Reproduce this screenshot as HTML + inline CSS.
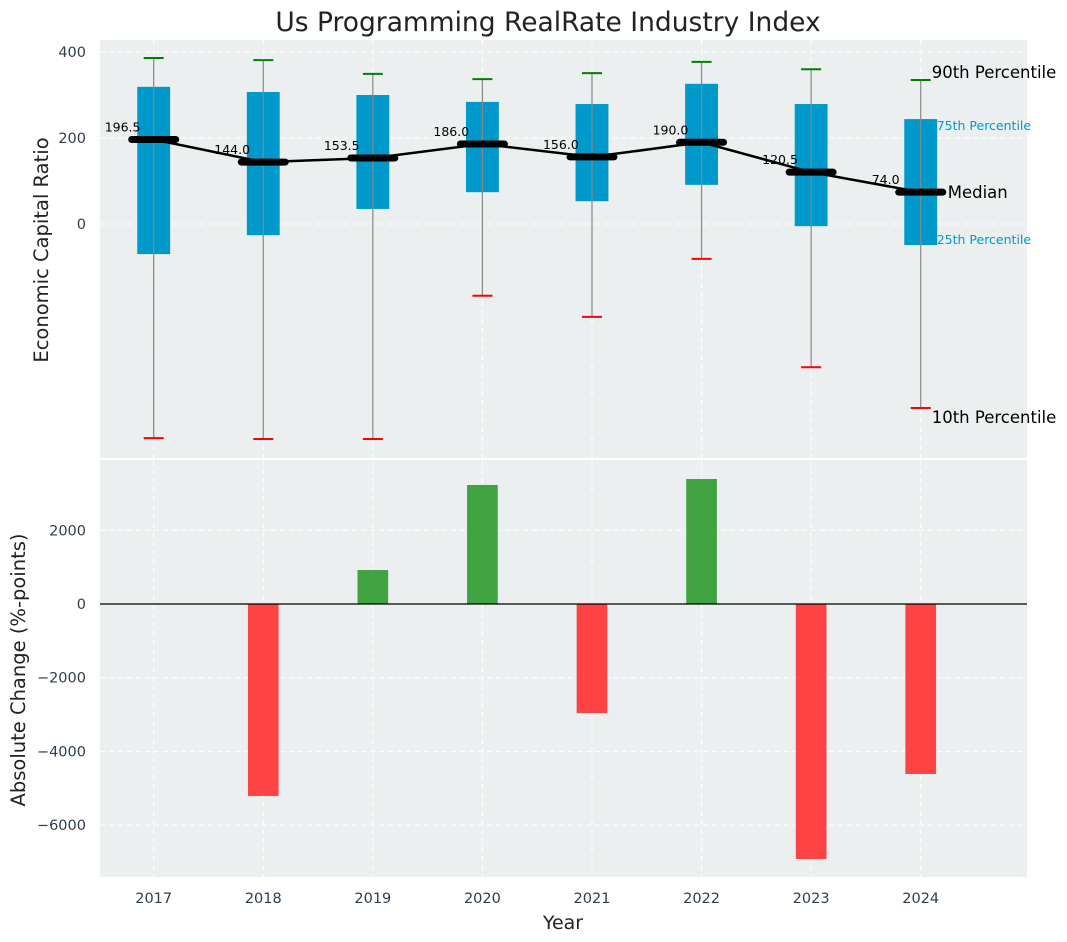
<!DOCTYPE html>
<html><head><meta charset="utf-8"><style>
body{margin:0;background:#fff;}
svg{display:block;font-family:"DejaVu Sans","Liberation Sans",sans-serif;}
</style></head><body>
<svg id="chart" width="1067" height="942" xmlns="http://www.w3.org/2000/svg"></svg>
<script>
const years=[2017,2018,2019,2020,2021,2022,2023,2024];
const p90=[386,381,349,337,351,377,360,335];
const p75=[319,307,300,284,279,326,279,244];
const medians=[196.5,144.0,153.5,186.0,156.0,190.0,120.5,74.0];
const p25=[-70,-26,35,74,53,91,-5,-49];
const p10=[-498,-500,-500,-167,-216,-81,-333,-428];
const changes=[0,-5210,922,3230,-2958,3392,-6920,-4613];
const topTicks=[0,200,400];
const botTicks=[-6000,-4000,-2000,0,2000];

const NS="http://www.w3.org/2000/svg";
const svg=document.getElementById('chart');
function el(tag,attrs,parent){const e=document.createElementNS(NS,tag);for(const k in attrs)e.setAttribute(k,attrs[k]);(parent||svg).appendChild(e);return e;}
const L=100,R=1027;
const x=v=>L+(v-2016.51)/(2024.97-2016.51)*(R-L);
const yT=v=>224-v*0.43;
const yB=v=>604-v*0.036846;

let e=el('rect',{x:L,y:40,width:R-L,height:418,fill:'#ebefef'});

e=el('rect',{x:L,y:460,width:R-L,height:417,fill:'#ebefef'});


years.forEach(yr=>{
  el('line',{x1:x(yr),x2:x(yr),y1:40,y2:458,stroke:'#fff','stroke-dasharray':'5,4','stroke-width':1});
  el('line',{x1:x(yr),x2:x(yr),y1:460,y2:877,stroke:'#fff','stroke-dasharray':'5,4','stroke-width':1});
  const t=el('text',{x:x(yr),y:903,'text-anchor':'middle','font-size':14.5,fill:'#2c3e50'});t.textContent=yr;
  
});
topTicks.forEach(v=>{
  el('line',{x1:L,x2:R,y1:yT(v),y2:yT(v),stroke:'#fff','stroke-dasharray':'5,4'});
  const t=el('text',{x:86,y:yT(v)+5,'text-anchor':'end','font-size':14.5,fill:'#2c3e50'});t.textContent=v;
  
});
botTicks.forEach(v=>{
  el('line',{x1:L,x2:R,y1:yB(v),y2:yB(v),stroke:'#fff','stroke-dasharray':'5,4'});
  const t=el('text',{x:86,y:yB(v)+5,'text-anchor':'end','font-size':14.5,fill:'#2c3e50'});t.textContent=(v<0?'\u2212'+(-v):v);
  
});

const bw=0.3*(x(1)-x(0));
years.forEach((yr,i)=>{
  const cx=x(yr);
  const b=el('rect',{x:cx-bw/2,y:yT(p75[i]),width:bw,height:yT(p25[i])-yT(p75[i]),fill:'#0099cc'});
  
  el('line',{x1:cx,x2:cx,y1:yT(p90[i]),y2:yT(p10[i]),stroke:'#888','stroke-width':1.2});
  const c1=el('line',{x1:cx-10,x2:cx+10,y1:yT(p90[i]),y2:yT(p90[i]),stroke:'green','stroke-width':2});
  
  const c2=el('line',{x1:cx-10,x2:cx+10,y1:yT(p10[i]),y2:yT(p10[i]),stroke:'red','stroke-width':2});
  
});
const pts=years.map((yr,i)=>x(yr)+','+yT(medians[i])).join(' ');
e=el('polyline',{points:pts,fill:'none',stroke:'#000','stroke-width':2.5});

years.forEach((yr,i)=>{
  const cx=x(yr),cy=yT(medians[i]);
  const m=el('line',{x1:cx-22,x2:cx+22,y1:cy,y2:cy,stroke:'#000','stroke-width':7,'stroke-linecap':'round'});
  
  const t=el('text',{x:cx-49,y:cy-8,'font-size':12.5,fill:'#000'});t.textContent=medians[i].toFixed(1);
  
});
const li=years.length-1, lx=x(years[li]);
function ann(txt,yy,dx,fs,col){
  const t=el('text',{x:lx+dx,y:yy,'font-size':fs,fill:col});t.textContent=txt;
  
}
ann('90th Percentile',yT(p90[li])-2,11,16.5,'#000');
ann('75th Percentile',yT(p75[li])+11,16,12.5,'#0099cc');
ann('Median',yT(medians[li])+6,27,16.5,'#000');
ann('25th Percentile',yT(p25[li])-1,16,12.5,'#0099cc');
ann('10th Percentile',yT(p10[li])+15,11,16.5,'#000');

const barw=0.28*(x(1)-x(0));
years.forEach((yr,i)=>{
  const v=changes[i];if(v===0)return;
  const r=el('rect',{x:x(yr)-barw/2,y:Math.min(yB(v),yB(0)),width:barw,height:Math.abs(yB(v)-yB(0)),fill:v>0?'#2e9a2e':'#ff3030','fill-opacity':0.9});
  
});
el('line',{x1:L,x2:R,y1:yB(0),y2:yB(0),stroke:'#000','stroke-width':1.2});

let t=el('text',{x:548,y:31,'text-anchor':'middle','font-size':26.5,fill:'#222'});t.textContent='Us Programming RealRate Industry Index';

t=el('text',{x:48,y:250,'text-anchor':'middle','font-size':19.5,fill:'#222',transform:'rotate(-90 48 250)'});t.textContent='Economic Capital Ratio';

t=el('text',{x:25,y:670,'text-anchor':'middle','font-size':19.5,fill:'#222',transform:'rotate(-90 25 670)'});t.textContent='Absolute Change (%-points)';

t=el('text',{x:563,y:929,'text-anchor':'middle','font-size':19,fill:'#222'});t.textContent='Year';

</script>
</body></html>
